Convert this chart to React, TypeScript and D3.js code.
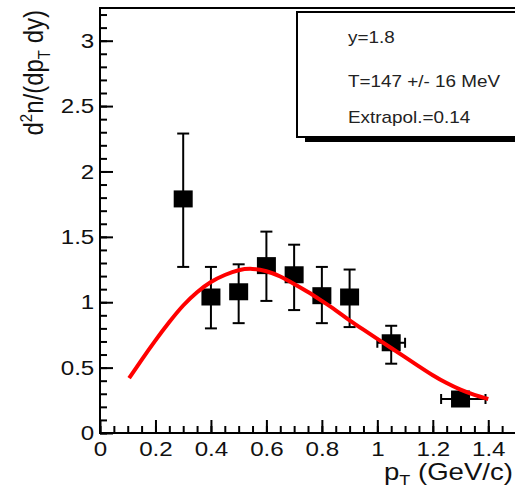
import { useEffect, useRef } from 'react';
import * as d3 from 'd3';

const width = 515;
const height = 490;
// frame of the pad
const [fl, ft, fr, fb] = [100, 8, 516, 433];
const stretch = 'scale(1.15,1)';

// measured points
const ptValues = [0.3, 0.4, 0.5, 0.6, 0.7, 0.8, 0.9, 1.05, 1.3];
const yieldValues = [1.79, 1.04, 1.08, 1.28, 1.21, 1.05, 1.04, 0.69, 0.26];
const yErrLow = [1.27, 0.8, 0.84, 1.01, 0.94, 0.84, 0.81, 0.53, 0.25];
const yErrHigh = [2.29, 1.27, 1.29, 1.54, 1.44, 1.27, 1.25, 0.82, 0.27];
const xErrLow = [0.3, 0.4, 0.5, 0.6, 0.7, 0.8, 0.9, 1.0, 1.23];
const xErrHigh = [0.3, 0.4, 0.5, 0.6, 0.7, 0.8, 0.9, 1.1, 1.39];

// fit curve
const fitPt = [0.105, 0.15, 0.2, 0.25, 0.3, 0.35, 0.4, 0.45, 0.5, 0.55, 0.6, 0.65, 0.7, 0.75, 0.8, 0.85, 0.9, 0.95, 1.0, 1.05, 1.1, 1.15, 1.2, 1.25, 1.3, 1.35, 1.4];
const fitValues = [0.42, 0.56, 0.71, 0.85, 0.98, 1.08, 1.16, 1.21, 1.25, 1.26, 1.24, 1.2, 1.14, 1.08, 1.01, 0.94, 0.86, 0.79, 0.72, 0.65, 0.58, 0.51, 0.44, 0.38, 0.33, 0.29, 0.26];

const xMajorTicks = [0, 0.2, 0.4, 0.6, 0.8, 1, 1.2, 1.4];
const yMajorTicks = [0, 0.5, 1, 1.5, 2, 2.5, 3];

const legendLines = ['y=1.8', 'T=147 +/- 16 MeV', 'Extrapol.=0.14'];

export default function App() {
    const ref = useRef<HTMLDivElement>(null);

    useEffect(() => {
        const root = d3.select(ref.current);
        root.selectAll('*').remove();

        const svg = root
            .append('svg')
            .attr('width', width)
            .attr('height', height)
            .attr('viewBox', [0, 0, width, height])
            .attr('font-family', '"Liberation Sans", Arial, sans-serif')
            .style('display', 'block')
            .style('background', '#fff');

        const x = d3.scaleLinear().domain([0, 1.5]).range([fl, fr]);
        const y = d3.scaleLinear().domain([0, 3.25]).range([fb, ft]);

        // x axis: major + minor ticks pointing inward
        const xAxisG = svg.append('g').attr('transform', `translate(0,${fb})`);
        xAxisG
            .append('g')
            .call(d3.axisBottom(x).tickValues(d3.range(0, 1.501, 0.05)).tickSize(-7).tickFormat(() => ''))
            .call((g) => g.select('.domain').remove());
        xAxisG
            .append('g')
            .call(d3.axisBottom(x).tickValues(xMajorTicks).tickSize(-13).tickPadding(8).tickFormat(d3.format('')))
            .call((g) => g.select('.domain').remove())
            .call((g) => g.selectAll('text').attr('font-size', 21).attr('fill', '#111').attr('transform', stretch));
        xAxisG.selectAll('line').attr('stroke', '#000').attr('stroke-width', 2);

        // y axis
        const yAxisG = svg.append('g').attr('transform', `translate(${fl},0)`);
        yAxisG
            .append('g')
            .call(d3.axisLeft(y).tickValues(d3.range(0, 3.21, 0.1)).tickSize(-7).tickFormat(() => ''))
            .call((g) => g.select('.domain').remove());
        yAxisG
            .append('g')
            .call(d3.axisLeft(y).tickValues(yMajorTicks).tickSize(-13).tickPadding(5).tickFormat(d3.format('')))
            .call((g) => g.select('.domain').remove())
            .call((g) => g.selectAll('text').attr('font-size', 21).attr('fill', '#111').attr('transform', stretch));
        yAxisG.selectAll('line').attr('stroke', '#000').attr('stroke-width', 2);

        // frame
        svg.append('rect')
            .attr('x', fl)
            .attr('y', ft)
            .attr('width', fr - fl)
            .attr('height', fb - ft)
            .attr('fill', 'none')
            .attr('stroke', '#000')
            .attr('stroke-width', 2);

        // axis titles
        const yTitle = svg
            .append('text')
            .attr('transform', `translate(43,10) rotate(-90) scale(1,1.12)`)
            .attr('text-anchor', 'end')
            .attr('font-size', 24)
            .attr('fill', '#111');
        yTitle.append('tspan').text('d');
        yTitle.append('tspan').attr('font-size', 15).attr('dy', -10).text('2');
        yTitle.append('tspan').attr('dy', 10).text('n/(dp');
        yTitle.append('tspan').attr('font-size', 15).attr('dy', 6).text('T');
        yTitle.append('tspan').attr('dy', -6).text('\u00a0dy)');

        const xTitle = svg
            .append('text')
            .attr('transform', `translate(513,480) scale(1.2,1)`)
            .attr('text-anchor', 'end')
            .attr('font-size', 23)
            .attr('fill', '#111');
        xTitle.append('tspan').text('p');
        xTitle.append('tspan').attr('font-size', 15).attr('dy', 5).text('T');
        xTitle.append('tspan').attr('dy', -5).text('\u00a0(GeV/c)');

        // legend box with shadow
        svg.append('rect').attr('x', 305).attr('y', 137).attr('width', 240).attr('height', 5).attr('fill', '#000');
        svg.append('rect')
            .attr('x', 297)
            .attr('y', 12)
            .attr('width', 240)
            .attr('height', 125)
            .attr('fill', '#fff')
            .attr('stroke', '#000')
            .attr('stroke-width', 2);
        const legendBaselines = [43, 87, 123];
        svg.selectAll('.legend-text')
            .data(legendLines)
            .join('text')
            .attr('class', 'legend-text')
            .attr('transform', (_d, i) => `translate(348,${legendBaselines[i]}) scale(1.18,1)`)
            .attr('font-size', 16)
            .attr('fill', '#222')
            .text((d) => d);

        // error bars
        const points = ptValues.map((pt, i) => ({
            pt,
            v: yieldValues[i],
            lo: yErrLow[i],
            hi: yErrHigh[i],
            xlo: xErrLow[i],
            xhi: xErrHigh[i]
        }));
        const bars = svg.append('g').attr('stroke', '#000').attr('stroke-width', 2);
        points.forEach((p) => {
            const cx = x(p.pt);
            const cy = y(p.v);
            if (p.hi - p.lo > 0.05) {
                bars.append('line').attr('x1', cx).attr('x2', cx).attr('y1', y(p.lo)).attr('y2', y(p.hi));
                bars.append('line').attr('x1', cx - 6).attr('x2', cx + 6).attr('y1', y(p.lo)).attr('y2', y(p.lo));
                bars.append('line').attr('x1', cx - 6).attr('x2', cx + 6).attr('y1', y(p.hi)).attr('y2', y(p.hi));
            }
            if (p.xhi > p.xlo) {
                bars.append('line').attr('x1', x(p.xlo)).attr('x2', x(p.xhi)).attr('y1', cy).attr('y2', cy);
                bars.append('line').attr('x1', x(p.xlo)).attr('x2', x(p.xlo)).attr('y1', cy - 5).attr('y2', cy + 5);
                bars.append('line').attr('x1', x(p.xhi)).attr('x2', x(p.xhi)).attr('y1', cy - 5).attr('y2', cy + 5);
            }
        });

        // markers
        svg.append('g')
            .selectAll('rect')
            .data(points)
            .join('rect')
            .attr('x', (d) => x(d.pt) - 9.5)
            .attr('y', (d) => y(d.v) - 8.5)
            .attr('width', 19)
            .attr('height', 17)
            .attr('fill', '#000');

        // fit curve on top
        const line = d3
            .line<number>()
            .x((_d, i) => x(fitPt[i]))
            .y((d) => y(d))
            .curve(d3.curveBasis);
        svg.append('path')
            .attr('d', line(fitValues))
            .attr('fill', 'none')
            .attr('stroke', '#ff0000')
            .attr('stroke-width', 4)
            .attr('stroke-linejoin', 'round');
    }, []);

    return <div ref={ref} style={{ position: 'absolute', left: 0, top: 0 }} />;
}
